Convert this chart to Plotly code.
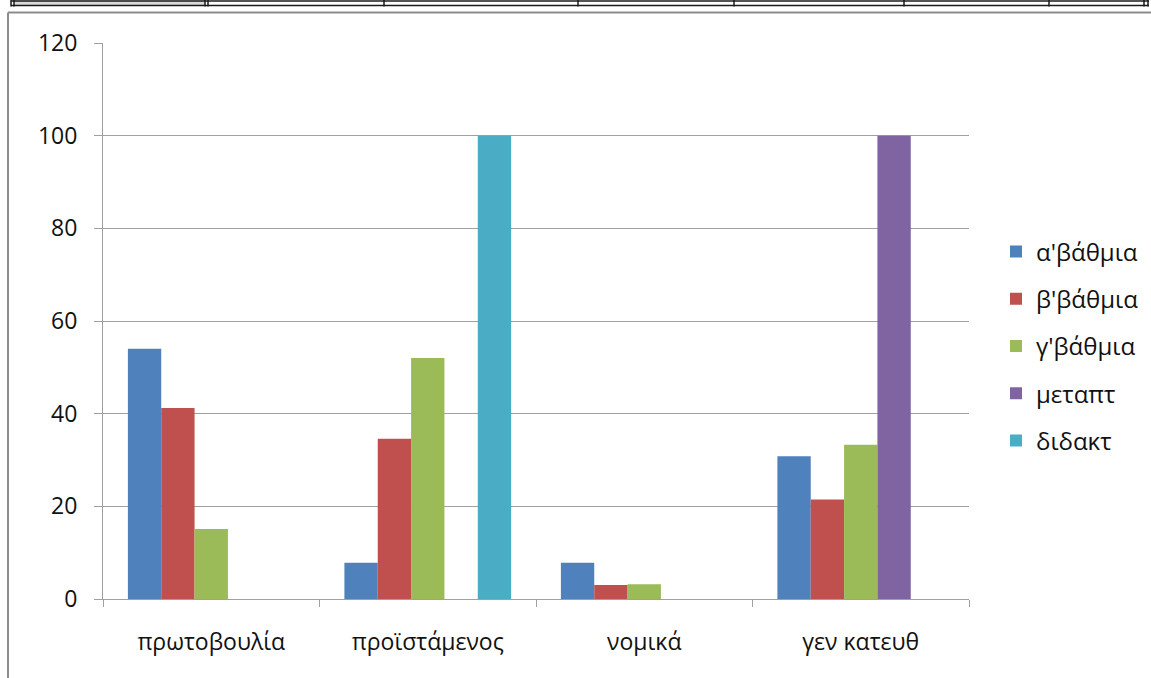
import plotly.graph_objects as go

# Categories and series values
categories = ["πρωτοβουλία", "προϊστάμενος", "νομικά", "γεν κατευθ"]
series_names = ["α'βάθμια", "β'βάθμια", "γ'βάθμια", "μεταπτ", "διδακτ"]
alpha_vals = [54.0, 7.8, 7.8, 30.8]
beta_vals = [41.2, 34.6, 3.0, 21.5]
gamma_vals = [15.1, 52.0, 3.2, 33.3]
metapt_vals = [0, 0, 0, 100]
didakt_vals = [0, 100, 0, 0]
series_values = [alpha_vals, beta_vals, gamma_vals, metapt_vals, didakt_vals]
colors = ["#4F81BD", "#C0504D", "#9BBB59", "#8064A2", "#4BACC6"]
y_ticks = [0, 20, 40, 60, 80, 100, 120]

W, H = 1151, 678
ML, MR, MT, MB = 103, W - 969, 43, H - 599
PW, PH = W - ML - MR, H - MT - MB

FONT = "Open Sans"
TXT = "#111111"
GRID = "#a0a0a0"

fig = go.Figure()
for name, vals, col in zip(series_names, series_values, colors):
    fig.add_trace(go.Bar(
        x=categories, y=vals, name=name, legendgroup=name,
        marker=dict(color=col, line=dict(width=0)),
    ))


def px_x(px):
    return (px - ML) / PW


def px_y(py):
    return (H - MB - py) / PH


shapes = []
# chart frame (top and left edges)
shapes.append(dict(type="line", xref="paper", yref="paper",
                   x0=px_x(8), x1=px_x(W + 5), y0=px_y(12.5), y1=px_y(12.5),
                   line=dict(color="#8c8c8c", width=2)))
shapes.append(dict(type="line", xref="paper", yref="paper",
                   x0=px_x(8), x1=px_x(8), y0=px_y(12.5), y1=px_y(H + 5),
                   line=dict(color="#8c8c8c", width=2)))
# table border above the chart
shapes.append(dict(type="rect", xref="paper", yref="paper",
                   x0=px_x(14), x1=px_x(205), y0=px_y(0), y1=px_y(5),
                   fillcolor="#d9d9d9", line=dict(width=0), layer="below"))
for yy in (1, 5.5):
    shapes.append(dict(type="line", xref="paper", yref="paper",
                       x0=px_x(11), x1=px_x(1149), y0=px_y(yy), y1=px_y(yy),
                       line=dict(color="#1a1a1a", width=1.5)))
for xx in (11, 14, 205, 208, 384, 578, 734, 904, 1049, 1144, 1148):
    shapes.append(dict(type="line", xref="paper", yref="paper",
                       x0=px_x(xx), x1=px_x(xx), y0=px_y(0), y1=px_y(6.5),
                       line=dict(color="#1a1a1a", width=1.5)))

fig.update_layout(
    width=W, height=H,
    margin=dict(l=ML, r=MR, t=MT, b=MB, pad=0, autoexpand=False),
    paper_bgcolor="white", plot_bgcolor="white",
    barmode="group", bargap=0.23, bargroupgap=0,
    font=dict(family=FONT, size=23, color=TXT),
    showlegend=True,
    legend=dict(xref="container", yref="container",
                x=996 / W, xanchor="left", y=(H - 346) / H, yanchor="middle",
                font=dict(family=FONT, size=24, color=TXT),
                tracegroupgap=13, bgcolor="rgba(0,0,0,0)"),
    shapes=shapes,
)
fig.update_xaxes(
    type="category", showgrid=False, showline=True, linecolor=GRID, linewidth=1,
    ticks="outside", tickson="boundaries", ticklen=7, tickcolor=GRID,
    ticklabelstandoff=22,
    tickfont=dict(family=FONT, size=23, color=TXT),
)
fig.update_yaxes(
    range=[0, 120], tickvals=y_ticks, showgrid=True, gridcolor=GRID, gridwidth=1,
    showline=True, linecolor=GRID, linewidth=1, ticks="outside", ticklen=8,
    tickcolor=GRID, zeroline=False, ticklabelstandoff=12,
    tickfont=dict(family=FONT, size=23, color=TXT),
)

fig.write_html("out.html")
